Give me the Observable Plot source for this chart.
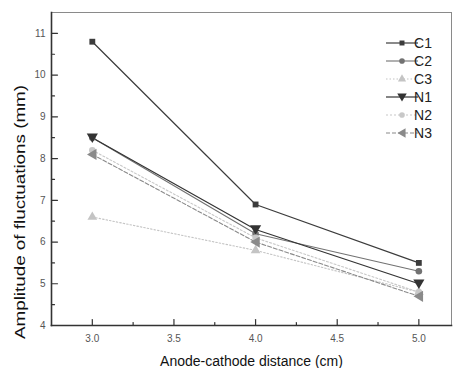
<!DOCTYPE html>
<html>
<head>
<meta charset="utf-8">
<script src="https://cdn.jsdelivr.net/npm/d3@7"></script>
<script src="https://cdn.jsdelivr.net/npm/@observablehq/plot@0.6"></script>
<style>
  html, body { margin: 0; padding: 0; background: #fff; }
  #chart { width: 456px; height: 368px; }
  svg { font-family: "Liberation Sans", Arial, sans-serif; }
</style>
</head>
<body>
<div id="chart"></div>
<script>
const distances = [3.0, 4.0, 5.0];
const seriesNames = ["C1", "C2", "C3", "N1", "N2", "N3"];
const C1 = [10.8, 6.9, 5.5];
const C2 = [8.5, 6.2, 5.3];
const C3 = [6.6, 5.8, 4.8];
const N1 = [8.5, 6.3, 5.0];
const N2 = [8.2, 6.1, 4.8];
const N3 = [8.1, 6.0, 4.7];
const xMajorTicks = [3.0, 3.5, 4.0, 4.5, 5.0];
const xMinorTicks = [3.25, 3.75, 4.25, 4.75];
const yMajorTicks = [4, 5, 6, 7, 8, 9, 10, 11];
const yMinorTicks = [4.5, 5.5, 6.5, 7.5, 8.5, 9.5, 10.5];
const xLabel = "Anode-cathode distance (cm)";
const yLabel = "Amplitude of fluctuations (mm)";

const values = {C1, C2, C3, N1, N2, N3};

const triDown = {draw(ctx, size) { const r = Math.sqrt(size / 1.3); ctx.moveTo(-r, -r * 0.75); ctx.lineTo(r, -r * 0.75); ctx.lineTo(0, r * 0.95); ctx.closePath(); }};
const triLeft = {draw(ctx, size) { const r = Math.sqrt(size / 1.3); ctx.moveTo(r * 0.75, -r); ctx.lineTo(r * 0.75, r); ctx.lineTo(-r * 0.95, 0); ctx.closePath(); }};
const tickShape = {draw(ctx, l) { ctx.moveTo(0, 0); ctx.lineTo(0, -l); }};

const styles = {
  C1: {stroke: "#3c3c3c", width: 1.2, dash: null, symbol: "square", r: 3.3, fill: "#3c3c3c"},
  C2: {stroke: "#727272", width: 1.1, dash: null, symbol: "circle", r: 3.3, fill: "#727272"},
  C3: {stroke: "#c4c4c4", width: 1.1, dash: "1.5,2", symbol: "triangle", r: 3.6, fill: "#c4c4c4"},
  N1: {stroke: "#333333", width: 1.2, dash: null, symbol: triDown, r: 3.6, fill: "#333333"},
  N2: {stroke: "#c8c8c8", width: 1.1, dash: "2,2", symbol: "circle", r: 3.3, fill: "#c8c8c8"},
  N3: {stroke: "#8a8a8a", width: 1.1, dash: "4,2", symbol: triLeft, r: 3.6, fill: "#8a8a8a"}
};

const rows = seriesNames.flatMap(s => distances.map((d, i) => ({series: s, x: d, y: values[s][i]})));

const marks = [];
for (const s of seriesNames) {
  const st = styles[s];
  const data = rows.filter(r => r.series === s);
  marks.push(Plot.line(data, {x: "x", y: "y", stroke: st.stroke, strokeWidth: st.width, strokeDasharray: st.dash}));
}
for (const s of seriesNames) {
  const st = styles[s];
  const data = rows.filter(r => r.series === s);
  marks.push(Plot.dot(data, {x: "x", y: "y", symbol: st.symbol, r: st.r, fill: st.fill, stroke: "none"}));
}

const plot = Plot.plot({
  width: 456,
  height: 368,
  marginLeft: 51,
  marginRight: 5,
  marginTop: 12,
  marginBottom: 43,
  style: {fontFamily: "Liberation Sans, Arial, sans-serif", background: "#fff"},
  x: {domain: [2.75, 5.2]},
  y: {domain: [4, 11.5]},
  marks: [
    Plot.frame({anchor: "top", stroke: "#8a8a8a", strokeWidth: 1}),
    Plot.frame({anchor: "right", stroke: "#8a8a8a", strokeWidth: 1}),
    ...marks,
    Plot.axisX(xMajorTicks, {tickSize: 0, tickPadding: 9, tickFormat: d3.format(".1f"), fontSize: 10, fill: "#555", label: null}),
    Plot.axisY(yMajorTicks, {tickSize: 0, tickPadding: 6, tickFormat: d3.format("d"), fontSize: 10, fill: "#555", label: null}),
    Plot.vector(xMajorTicks, {x: d => d, frameAnchor: "bottom", length: 6, rotate: 0, anchor: "start", shape: tickShape, stroke: "#333", strokeWidth: 1.2}),
    Plot.vector(xMinorTicks, {x: d => d, frameAnchor: "bottom", length: 3, rotate: 0, anchor: "start", shape: tickShape, stroke: "#333", strokeWidth: 1.2}),
    Plot.vector(yMajorTicks, {y: d => d, frameAnchor: "left", length: 6, rotate: 90, anchor: "start", shape: tickShape, stroke: "#333", strokeWidth: 1.2}),
    Plot.vector(yMinorTicks, {y: d => d, frameAnchor: "left", length: 3, rotate: 90, anchor: "start", shape: tickShape, stroke: "#333", strokeWidth: 1.2}),
    Plot.frame({anchor: "left", stroke: "#333", strokeWidth: 1.6}),
    Plot.frame({anchor: "bottom", stroke: "#333", strokeWidth: 1.6}),
    Plot.text([xLabel], {frameAnchor: "bottom", dy: 36, text: d => d, fontSize: 14, fill: "#111", lineAnchor: "middle", textAnchor: "middle"}),
    Plot.text([yLabel], {frameAnchor: "left", dx: -31, dy: 43, rotate: -90, text: d => d, fontSize: 14, fill: "#111", lineAnchor: "middle", textAnchor: "middle"})
  ]
});

document.getElementById("chart").appendChild(plot);

// Stretch y label along its axis like the reference
d3.select(plot).selectAll("text").filter(function() { return this.textContent === yLabel; })
  .attr("textLength", 254).attr("lengthAdjust", "spacingAndGlyphs");

// Legend (inside plot, top-right)
const svg = d3.select(plot);
const lg = svg.append("g").attr("font-family", "Liberation Sans, Arial, sans-serif");
seriesNames.forEach((s, i) => {
  const st = styles[s];
  const y = 43 + i * 18;
  lg.append("line").attr("x1", 386).attr("x2", 418).attr("y1", y).attr("y2", y)
    .attr("stroke", st.stroke).attr("stroke-width", st.width).attr("stroke-dasharray", st.dash);
  const symType = typeof st.symbol === "string" ? {square: d3.symbolSquare, circle: d3.symbolCircle, triangle: d3.symbolTriangle}[st.symbol] : st.symbol;
  const lr = st.r * 0.85;
  lg.append("path").attr("transform", `translate(402,${y})`).attr("d", d3.symbol(symType, Math.PI * lr * lr)())
    .attr("fill", st.fill);
  lg.append("text").attr("x", 423).attr("y", y).attr("dy", "0.35em").attr("font-size", 14).attr("fill", "#222").text(s);
});
</script>
</body>
</html>
